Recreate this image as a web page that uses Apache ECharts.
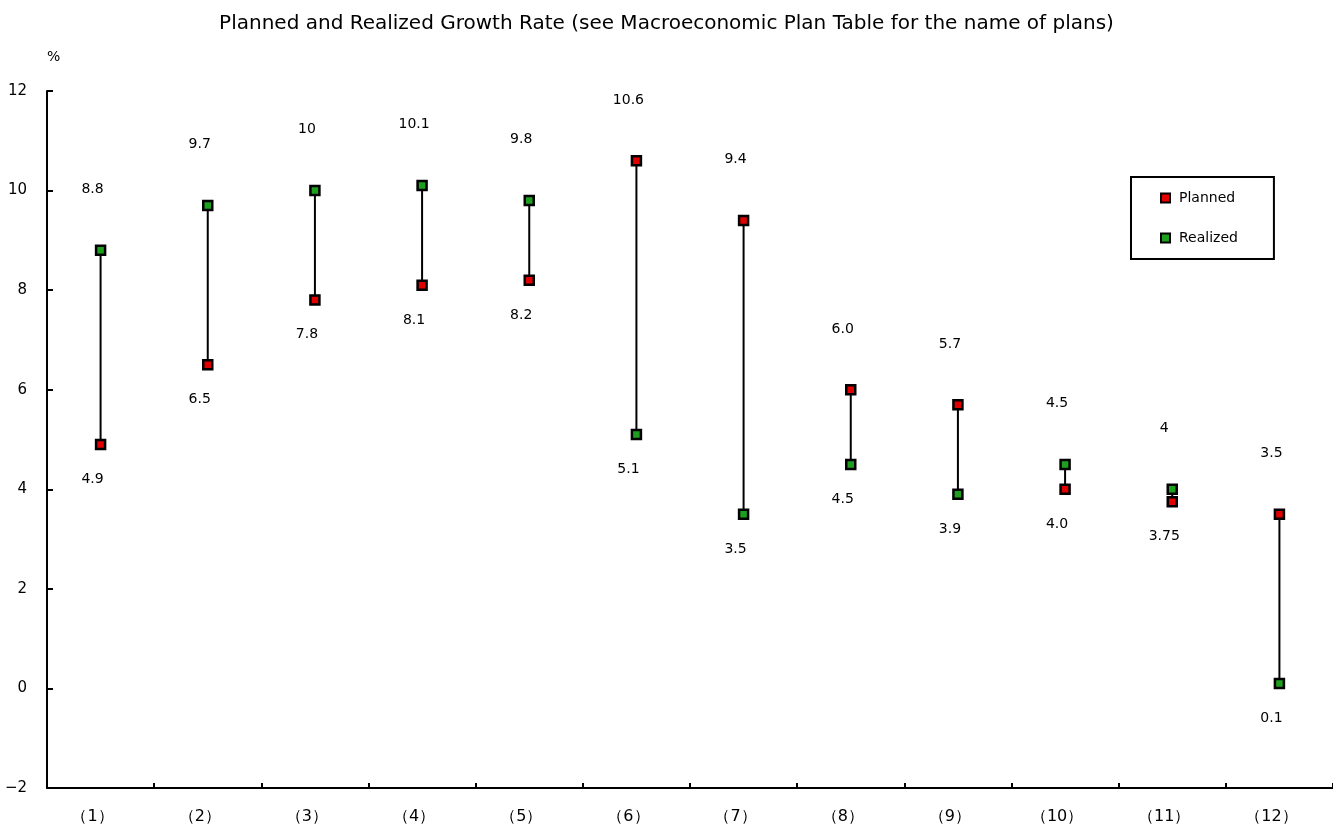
<!DOCTYPE html>
<html><head><meta charset="utf-8">
<script src="https://cdn.jsdelivr.net/npm/echarts@6/dist/echarts.min.js"></script>
<style>html,body{margin:0;padding:0;background:#fff}#c{width:1333px;height:829px}</style>
</head><body><div id="c"></div>
<script>
const categories = ['（1）','（2）','（3）','（4）','（5）','（6）','（7）','（8）','（9）','（10）','（11）','（12）'];
const planned = [4.9, 6.5, 7.8, 8.1, 8.2, 10.6, 9.4, 6.0, 5.7, 4.0, 3.75, 3.5];
const realized = [8.8, 9.7, 10, 10.1, 9.8, 5.1, 3.5, 4.5, 3.9, 4.5, 4, 0.1];
const plannedLabels = ['4.9','6.5','7.8','8.1','8.2','10.6','9.4','6.0','5.7','4.0','3.75','3.5'];
const realizedLabels = ['8.8','9.7','10','10.1','9.8','5.1','3.5','4.5','3.9','4.5','4','0.1'];
const yMin = -2, yMax = 12, yStep = 2;

const FONT = '"DejaVu Sans", "Liberation Sans", sans-serif';
const chart = echarts.init(document.getElementById('c'));

function pointData(vals, other, labels) {
  return vals.map((v, i) => {
    const up = v >= other[i];
    return {
      value: [i, v],
      label: {
        show: true,
        formatter: labels[i],
        position: up ? 'top' : 'bottom',
        distance: up ? 48 : 22,
        offset: [-8, 0],
        color: '#000',
        fontSize: 14,
        fontFamily: FONT
      }
    };
  });
}

const pointStyle = (color) => ({ color: color, borderColor: '#000', borderWidth: 2.5, opacity: 1 });

chart.setOption({
  animation: false,
  backgroundColor: '#fff',
  textStyle: { fontFamily: FONT, color: '#000' },
  title: {
    text: 'Planned and Realized Growth Rate (see Macroeconomic Plan Table for the name of plans)',
    left: 'center', top: 9,
    textStyle: { fontFamily: FONT, fontSize: 20, fontWeight: 'normal', color: '#000' }
  },
  graphic: [{
    type: 'text', left: 47, top: 50,
    style: { text: '%', font: '14px ' + FONT, fill: '#000' }
  }],
  legend: {
    orient: 'vertical', left: 1131, top: 177,
    data: ['Planned', 'Realized'],
    itemWidth: 9, itemHeight: 9, itemGap: 26,
    borderColor: '#000', borderWidth: 2, backgroundColor: '#fff',
    padding: [14, 36, 14, 29],
    textStyle: { fontFamily: FONT, fontSize: 14, color: '#000', padding: [0, 0, 0, 4] }
  },
  grid: { left: 47, right: -10, top: 91, bottom: 41, containLabel: false },
  xAxis: {
    type: 'category', data: categories, boundaryGap: true,
    axisLine: { onZero: false, lineStyle: { color: '#000', width: 2 } },
    axisTick: { show: true, inside: true, length: 5, lineStyle: { color: '#000', width: 2 } },
    axisLabel: { margin: 21, fontSize: 16, color: '#000', fontFamily: FONT, padding: [0, 16, 0, 0] },
    splitLine: { show: false }
  },
  yAxis: {
    type: 'value', min: yMin, max: yMax, interval: yStep,
    axisLine: { show: true, lineStyle: { color: '#000', width: 2 } },
    axisTick: { show: true, inside: true, length: 6, lineStyle: { color: '#000', width: 2 } },
    axisLabel: { margin: 20, fontSize: 15, color: '#000', fontFamily: FONT,
      formatter: v => (v < 0 ? '\u2212' + Math.abs(v) : String(v)) },
    splitLine: { show: false }
  },
  series: [
    {
      type: 'custom', name: 'range', silent: true, z: 1,
      data: planned.map((p, i) => [i, p, realized[i]]),
      encode: { x: 0, y: [1, 2] },
      renderItem: function (params, api) {
        const a = api.coord([api.value(0), api.value(1)]);
        const b = api.coord([api.value(0), api.value(2)]);
        return { type: 'line', shape: { x1: a[0], y1: a[1], x2: b[0], y2: b[1] },
          style: { stroke: '#000', lineWidth: 2 } };
      }
    },
    {
      type: 'scatter', name: 'Planned', z: 3,
      symbol: 'rect', symbolSize: 9,
      itemStyle: pointStyle('#e00000'),
      data: pointData(planned, realized, plannedLabels)
    },
    {
      type: 'scatter', name: 'Realized', z: 3,
      symbol: 'rect', symbolSize: 9,
      itemStyle: pointStyle('#1ea01e'),
      data: pointData(realized, planned, realizedLabels)
    }
  ]
});
</script></body></html>
